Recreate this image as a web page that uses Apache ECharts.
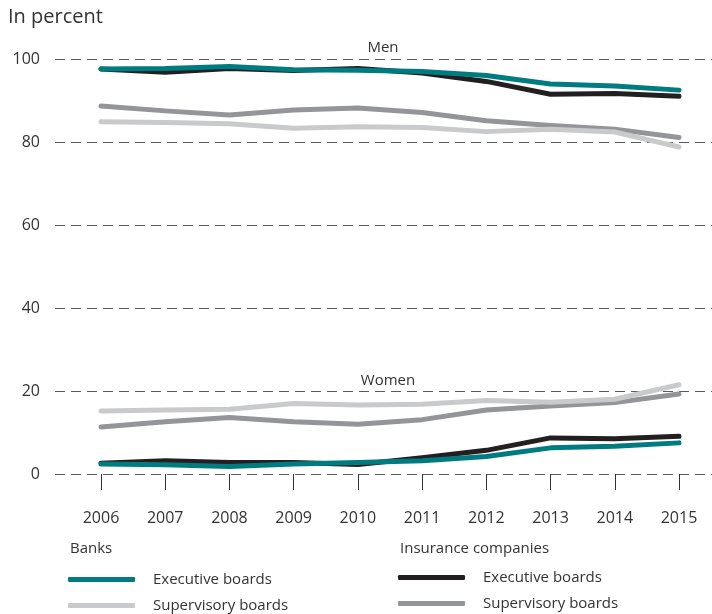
<!DOCTYPE html>
<html><head><meta charset="utf-8">
<script src="https://cdn.jsdelivr.net/npm/echarts@6/dist/echarts.min.js"></script>
<style>html,body{margin:0;padding:0;background:#fff}#c{width:712px;height:614px}</style>
</head><body><div id="c"></div>
<script>
const years = [2006,2007,2008,2009,2010,2011,2012,2013,2014,2015];
const yTicks = [0,20,40,60,80,100];
// Men
const menBanksExec = [97.6,97.7,98.2,97.4,97.3,97.0,96.0,94.0,93.5,92.5];
const menBanksSup  = [84.9,84.7,84.4,83.3,83.7,83.5,82.5,83.1,82.4,78.8];
const menInsExec   = [97.6,96.8,97.7,97.2,97.7,96.6,94.6,91.5,91.7,91.0];
const menInsSup    = [88.7,87.5,86.5,87.7,88.2,87.1,85.1,84.0,83.1,81.1];
// Women
const womBanksExec = [2.4,2.2,1.8,2.4,2.8,3.2,4.2,6.3,6.7,7.5];
const womBanksSup  = [15.2,15.4,15.6,17.0,16.6,16.8,17.7,17.3,18.0,21.5];
const womInsExec   = [2.6,3.2,2.8,2.8,2.3,3.9,5.7,8.7,8.5,9.1];
const womInsSup    = [11.3,12.6,13.6,12.6,12.0,13.1,15.4,16.4,17.2,19.3];

const C = {teal:'#007b80', black:'#231f20', dgray:'#939598', lgray:'#c9cacc'};
const FONT = 'Open Sans';
const pairs = arr => arr.map((v,i)=>[years[i], v]);

function line(name, data, color, z){
  return {name, type:'line', data:pairs(data), showSymbol:false, symbol:'none',
    lineStyle:{color, width:5, cap:'round', join:'round'}, itemStyle:{color}, z, animation:false};
}

const series = [
  line('Insurance Supervisory boards', menInsSup, C.dgray, 2),
  line('Banks Supervisory boards', menBanksSup, C.lgray, 3),
  line('Insurance Executive boards', menInsExec, C.black, 4),
  line('Banks Executive boards', menBanksExec, C.teal, 5),
  line('Insurance Supervisory boards', womInsSup, C.dgray, 2),
  line('Banks Supervisory boards', womBanksSup, C.lgray, 3),
  line('Insurance Executive boards', womInsExec, C.black, 4),
  line('Banks Executive boards', womBanksExec, C.teal, 5)
];

function leg(name, left, top){
  return {data:[name], left, top, orient:'vertical', icon:'roundRect', itemWidth:67, itemHeight:5,
    selectedMode:false, padding:0,
    textStyle:{fontFamily:FONT, fontSize:15, color:'#333', padding:[0,0,0,13]},
    formatter: n => n.replace(/^(Banks|Insurance) /,'')};
}

const chart = echarts.init(document.getElementById('c'), null, {renderer:'canvas'});
chart.setOption({
  backgroundColor:'#fff',
  animation:false,
  grid:{left:55, right:0, top:59, bottom:140, containLabel:false},
  xAxis:{type:'value', min:2006-46/64.222, max:2015+33/64.222,
    axisLine:{show:false},
    splitLine:{show:false},
    axisTick:{show:true, customValues:years, length:16, lineStyle:{color:'#333', width:1}},
    axisLabel:{customValues:years, formatter:v=>String(v), margin:36,
      fontFamily:FONT, fontSize:16, color:'#333'}},
  yAxis:{type:'value', min:0, max:100, interval:20,
    axisLine:{show:false}, axisTick:{show:false},
    axisLabel:{margin:15, fontFamily:FONT, fontSize:16, color:'#333'},
    splitLine:{show:true, lineStyle:{type:[10,6], color:'#5a5a5a', width:1}}},
  legend:[
    leg('Banks Executive boards', 68, 572),
    leg('Banks Supervisory boards', 68, 598),
    leg('Insurance Executive boards', 398, 570),
    leg('Insurance Supervisory boards', 398, 596)
  ],
  graphic:[
    {type:'text', left:8, top:7, style:{text:'In percent', font:'20px "Open Sans"', fill:'#333'}},
    {type:'text', x:383, y:48, style:{text:'Men', font:'15px "Open Sans"', fill:'#333', align:'center', verticalAlign:'middle'}},
    {type:'text', x:388, y:381, style:{text:'Women', font:'15px "Open Sans"', fill:'#333', align:'center', verticalAlign:'middle'}},
    {type:'text', x:70, y:549, style:{text:'Banks', font:'15px "Open Sans"', fill:'#333', verticalAlign:'middle'}},
    {type:'text', x:400, y:549, style:{text:'Insurance companies', font:'15px "Open Sans"', fill:'#333', verticalAlign:'middle'}}
  ],
  series
});
</script></body></html>
